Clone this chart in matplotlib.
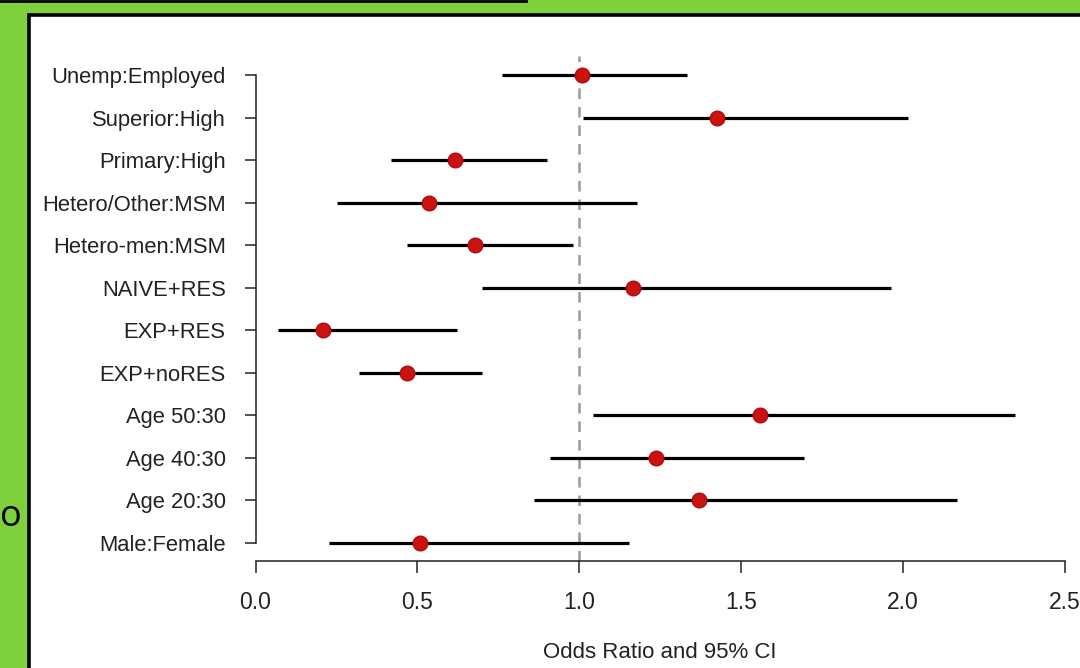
import matplotlib
matplotlib.use("Agg")
import matplotlib.pyplot as plt
from matplotlib.patches import Rectangle
from matplotlib.lines import Line2D

# ---- data (top row first) ----
labels = ["Unemp:Employed", "Superior:High", "Primary:High", "Hetero/Other:MSM",
          "Hetero-men:MSM", "NAIVE+RES", "EXP+RES", "EXP+noRES",
          "Age 50:30", "Age 40:30", "Age 20:30", "Male:Female"]
odds = [1.010, 1.427, 0.616, 0.537, 0.678, 1.166, 0.208, 0.467, 1.559, 1.236, 1.370, 0.508]
ci_low = [0.762, 1.013, 0.419, 0.251, 0.469, 0.699, 0.070, 0.321, 1.042, 0.910, 0.861, 0.227]
ci_high = [1.334, 2.017, 0.901, 1.180, 0.982, 1.963, 0.622, 0.701, 2.346, 1.695, 2.166, 1.154]
xticks = [0.0, 0.5, 1.0, 1.5, 2.0, 2.5]
xtick_labels = ["0.0", "0.5", "1.0", "1.5", "2.0", "2.5"]
xlabel = "Odds Ratio and 95% CI"

W, H = 1080, 668
GREEN = "#7ed03c"
fig = plt.figure(figsize=(W / 100, H / 100), dpi=100, facecolor=GREEN)
plt.rcParams['font.family'] = ['Liberation Sans', 'DejaVu Sans']

def fx(px):
    return px / W

def fy(py):
    return 1 - py / H

# slide decorations: white panel with black border, thin top line
fig.patches.append(Rectangle((fx(29), fy(H + 20)), fx(W + 40), (H + 20 - 15.5) / H,
                             transform=fig.transFigure, facecolor="white",
                             edgecolor="black", linewidth=2.6, zorder=-5))
fig.lines.append(Line2D([0, fx(526)], [fy(1), fy(1)], transform=fig.transFigure,
                        color="black", linewidth=2.0, zorder=-4))
fig.text(fx(0.0), fy(517), "o", fontsize=26, family=["Open Sans", "DejaVu Sans"],
         ha="left", va="center", color="black")

# axes placement: data 0 at px 255.5, 323.68 px per unit; rows 75..542.5 px
x0px, scale = 255.5, 323.68
xmin, xmax = 0.0, 2.56
top_px, bot_px = 56.3, 561.2
ax = fig.add_axes([fx(x0px + xmin * scale), fy(bot_px),
                   (xmax - xmin) * scale / W, (bot_px - top_px) / H])
ax.set_zorder(5)
ax.set_facecolor("none")
n = len(labels)
ys = list(range(n - 1, -1, -1))
ax.set_xlim(xmin, xmax)
ax.set_ylim(-0.44, n - 1 + 0.44)

ax.axvline(1.0, color="#999999", linewidth=1.8, linestyle=(0, (4.2, 3.2)), zorder=1)
ax.hlines(ys, ci_low, ci_high, color="black", linewidth=2.3, zorder=2)
ax.plot(odds, ys, "o", color="#cc1111", markeredgecolor="#b00a0a",
        markersize=10.5, linestyle="none", zorder=3)

for s in ["top", "right"]:
    ax.spines[s].set_visible(False)
ax.spines["left"].set_bounds(0, n - 1)
ax.spines["bottom"].set_bounds(0, 2.5)
for s in ["left", "bottom"]:
    ax.spines[s].set_linewidth(1.1)
    ax.spines[s].set_color("#222222")

ax.set_yticks(ys)
ax.set_yticklabels(labels, fontsize=15.8, color="#222222")
ax.tick_params(axis="y", length=8, width=1.1, pad=13.5, color="#222222")
ax.set_xticks(xticks)
ax.set_xticklabels(xtick_labels, fontsize=16.5, color="#222222")
ax.tick_params(axis="x", length=8.6, width=1.1, pad=12.5, color="#222222")

fig.text(fx(x0px + 1.25 * scale), fy(652), xlabel, fontsize=16,
         ha="center", va="center", color="#222222")

fig.savefig("out.png", dpi=100, facecolor=GREEN)
